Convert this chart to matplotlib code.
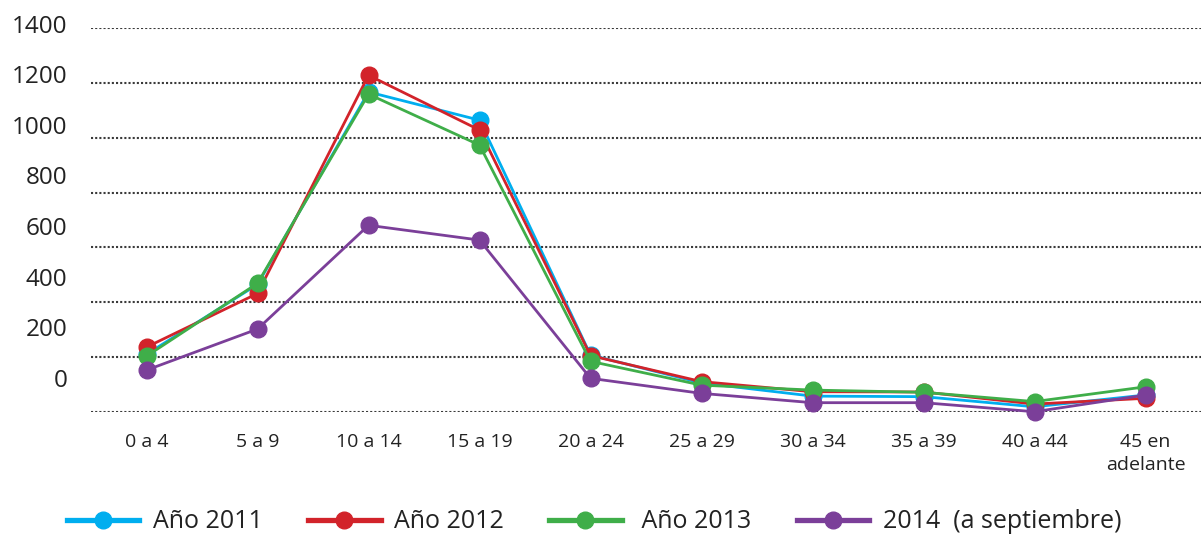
import numpy as np
import matplotlib
matplotlib.use("Agg")
import matplotlib.pyplot as plt
from matplotlib.lines import Line2D

# ── Data ──────────────────────────────────────────────────────────────────────
categories = ["0 a 4", "5 a 9", "10 a 14", "15 a 19", "20 a 24", "25 a 29",
              "30 a 34", "35 a 39", "40 a 44", "45 en\nadelante"]

y2011 = [210, 465, 1168, 1065, 207, 105, 57, 55, 18, 61]
y2012 = [236, 432, 1229, 1029, 205, 110, 73, 72, 28, 49]
y2013 = [203, 469, 1160, 974, 184, 97, 79, 71, 37, 91]
y2014 = [152, 302, 681, 627, 122, 67, 33, 33, 0, 61]

series_labels = ["Año 2011", "Año 2012", " Año 2013", "2014  (a septiembre)"]
series_colors = ["#00AEEF", "#D2232A", "#3FAE49", "#7B3F99"]

grid_vals = np.arange(0, 1401, 200)

plt.rcParams["font.family"] = ["Open Sans", "DejaVu Sans"]

# ── Figure ────────────────────────────────────────────────────────────────────
fig = plt.figure(figsize=(12.01, 5.37), dpi=100)
ax = fig.add_axes([0.0758, 0.2333, 0.9242, 0.7137])

x = np.arange(len(categories))
for vals, lab, col in zip([y2011, y2012, y2013, y2014], series_labels, series_colors):
    ax.plot(x, vals, color=col, linewidth=2, marker="o", markersize=12,
            label=lab, clip_on=False, zorder=3)

for g in grid_vals:
    ax.axhline(g, color="#3a3a3a", linewidth=1.5, linestyle=(0, (1, 1)), zorder=1)

ax.set_xticks(x)
ax.set_xticklabels(categories, fontsize=14, color="#222222", linespacing=1.4)
ax.set_yticks([])
ax.set_xlim(-0.5, len(categories) - 0.5)
ax.set_ylim(0, 1400)
ax.tick_params(axis="x", length=0, pad=15)
for s in ax.spines.values():
    s.set_visible(False)

# y labels in the original sit slightly off the gridlines, so place them by hand
for v in grid_vals:
    ax.annotate(str(v), xy=(0, v * 0.925 + 123), xycoords=ax.get_yaxis_transform(),
                xytext=(-17, 0), textcoords="offset points", ha="right",
                va="center_baseline", fontsize=17.5, color="#222222",
                annotation_clip=False)

handles = [Line2D([], [], color=c, linewidth=3.8, marker="o", markersize=12)
           for c in series_colors]
fig.legend(handles, series_labels, loc="center left", bbox_to_anchor=(0.037, 0.028),
           ncol=4, frameon=False, fontsize=18, handlelength=2.9, handletextpad=0.55,
           columnspacing=1.8, labelcolor="#222222")

fig.savefig("out.png", dpi=100)
